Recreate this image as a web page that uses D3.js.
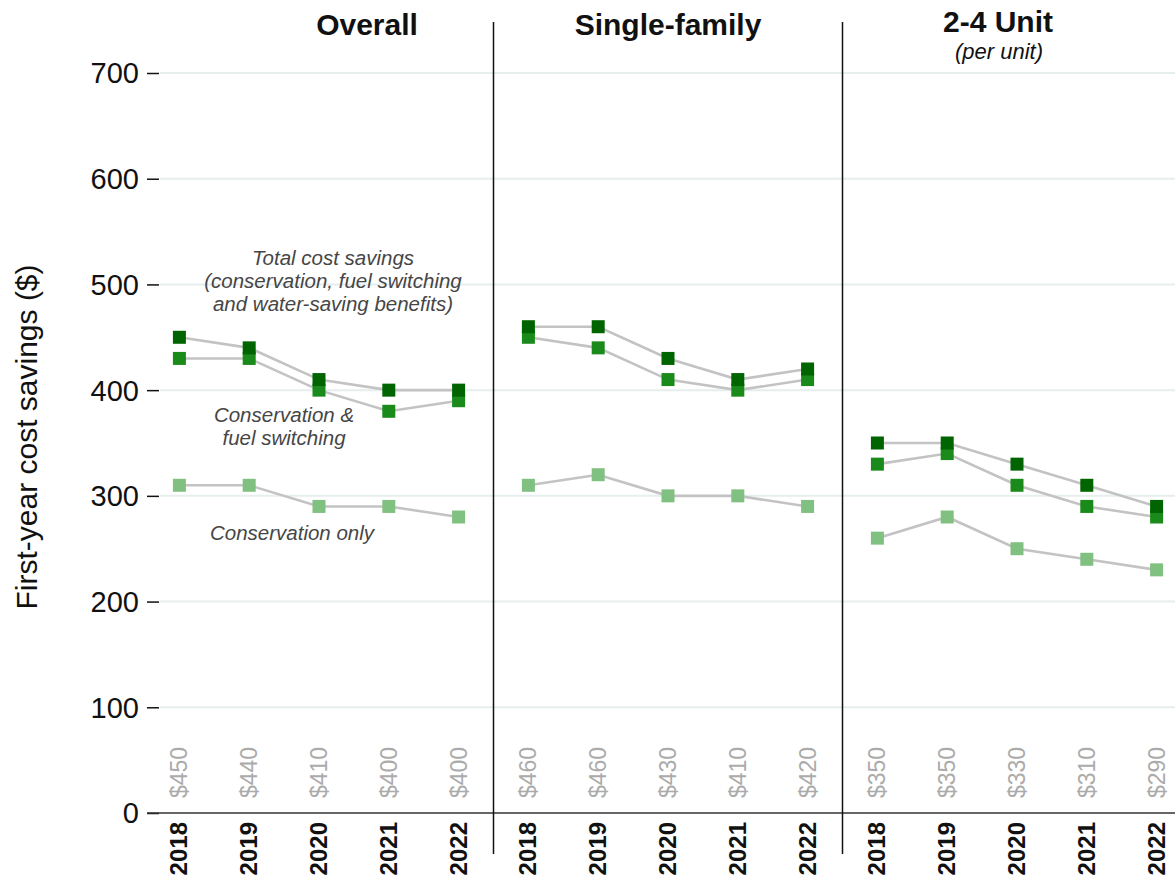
<!DOCTYPE html>
<html>
<head>
<meta charset="utf-8">
<script src="https://cdn.jsdelivr.net/npm/d3@7"></script>
<style>
  html, body { margin: 0; padding: 0; background: #fff; }
  svg { display: block; font-family: "Liberation Sans", Arial, sans-serif; }
</style>
</head>
<body>
<svg id="chart" width="1175" height="881"></svg>
<script>
// ---- Data ----
const panels = ["Overall", "Single-family", "2-4 Unit"];
const panelSubtitles = ["", "", "(per unit)"];
const years = ["2018", "2019", "2020", "2021", "2022"];
const totalSavings = [
  [450, 440, 410, 400, 400],
  [460, 460, 430, 410, 420],
  [350, 350, 330, 310, 290]
];
const consFuelSavings = [
  [430, 430, 400, 380, 390],
  [450, 440, 410, 400, 410],
  [330, 340, 310, 290, 280]
];
const consOnlySavings = [
  [310, 310, 290, 290, 280],
  [310, 320, 300, 300, 290],
  [260, 280, 250, 240, 230]
];
const yTicks = [0, 100, 200, 300, 400, 500, 600, 700];
const yAxisTitle = "First-year cost savings ($)";
const annTotal = ["Total cost savings", "(conservation, fuel switching", "and water-saving benefits)"];
const annConsFuel = ["Conservation &", "fuel switching"];
const annConsOnly = ["Conservation only"];

// ---- Setup ----
const svg = d3.select("#chart");
const W = 1175, H = 881;
const y = d3.scaleLinear().domain([0, 700]).range([813, 73]);
const panelX = d3.scaleBand().domain(panels).range([144.5, 144.5 + 349 * 3]).padding(0);
const yearX = d3.scalePoint().domain(years).range([0, panelX.bandwidth()]).padding(0.5);
const px = (p, yr) => panelX(p) + yearX(yr);

const series = [
  { name: "consOnly", data: consOnlySavings, color: "#80c080" },
  { name: "consFuel", data: consFuelSavings, color: "#1a8a1a" },
  { name: "total", data: totalSavings, color: "#006400" }
];

// gridlines
svg.append("g").selectAll("line").data(yTicks.filter(d => d > 0)).join("line")
  .attr("x1", 160).attr("x2", W)
  .attr("y1", d => y(d)).attr("y2", d => y(d))
  .attr("stroke", "#e6eeee").attr("stroke-width", 2);

// y axis ticks
const yAxis = d3.axisLeft(y).tickValues(yTicks).tickSize(12).tickPadding(8).tickFormat(d3.format("d"));
const yg = svg.append("g").attr("transform", "translate(159,0)").call(yAxis);
yg.select(".domain").remove();
yg.selectAll(".tick line").attr("stroke", "#111").attr("stroke-width", 1.5);
yg.selectAll(".tick text").attr("font-size", 29).attr("fill", "#111")
  .attr("font-family", "Liberation Sans, Arial, sans-serif").attr("dy", "0.34em");

// y title
svg.append("text")
  .attr("transform", `translate(37,${437}) rotate(-90)`)
  .attr("text-anchor", "middle")
  .attr("font-size", 30).attr("fill", "#111")
  .text(yAxisTitle);

// x baseline
svg.append("line").attr("x1", 147).attr("x2", W).attr("y1", y(0)).attr("y2", y(0))
  .attr("stroke", "#333").attr("stroke-width", 1.5);

// dividers
svg.append("g").selectAll("line").data(panels.slice(1)).join("line")
  .attr("x1", d => panelX(d)).attr("x2", d => panelX(d))
  .attr("y1", 22).attr("y2", 854)
  .attr("stroke", "#111").attr("stroke-width", 1.5);

// panel titles
const titleCx = [367, 668, 998];
svg.append("g").selectAll("text").data(panels).join("text")
  .attr("x", (d, i) => titleCx[i]).attr("y", (d, i) => i === 2 ? 32 : 35)
  .attr("text-anchor", "middle").attr("font-weight", "bold").attr("font-size", 30).attr("fill", "#111")
  .text(d => d);
svg.append("g").selectAll("text").data(panelSubtitles.filter(d => d !== "")).join("text")
  .attr("x", titleCx[2] + 1).attr("y", 59)
  .attr("text-anchor", "middle").attr("font-style", "italic").attr("font-size", 22).attr("fill", "#111")
  .text(d => d);

// lines and markers
const line = d3.line().x(d => d.x).y(d => d.y);
panels.forEach((p, pi) => {
  series.forEach(s => {
    const pts = years.map((yr, i) => ({ x: px(p, yr), y: y(s.data[pi][i]) }));
    svg.append("path").attr("d", line(pts)).attr("fill", "none")
      .attr("stroke", "#c3c3c3").attr("stroke-width", 2.6);
  });
});
panels.forEach((p, pi) => {
  series.forEach(s => {
    svg.append("g").selectAll("rect").data(years).join("rect")
      .attr("x", yr => px(p, yr) - 6.5).attr("y", (yr, i) => y(s.data[pi][i]) - 6.5)
      .attr("width", 13).attr("height", 13).attr("fill", s.color);
  });
});

// year labels and value labels
panels.forEach((p, pi) => {
  years.forEach((yr, i) => {
    const x = px(p, yr);
    svg.append("text")
      .attr("transform", `translate(${x + 8},${822}) rotate(-90)`)
      .attr("text-anchor", "end").attr("font-weight", "bold").attr("font-size", 24).attr("fill", "#111")
      .text(yr);
    svg.append("text")
      .attr("transform", `translate(${x + 8},${798}) rotate(-90)`)
      .attr("text-anchor", "start").attr("font-size", 23).attr("fill", "#ababab")
      .text("$" + totalSavings[pi][i]);
  });
});

// annotations
function ann(lines, cx, y0, dy) {
  svg.append("g").selectAll("text").data(lines).join("text")
    .attr("x", cx).attr("y", (d, i) => y0 + i * dy)
    .attr("text-anchor", "middle").attr("font-style", "italic").attr("font-size", 20.5).attr("fill", "#464646")
    .text(d => d);
}
ann(annTotal, 333, 265, 23);
ann(annConsFuel, 284, 422, 23);
ann(annConsOnly, 292, 540, 23);
</script>
</body>
</html>
